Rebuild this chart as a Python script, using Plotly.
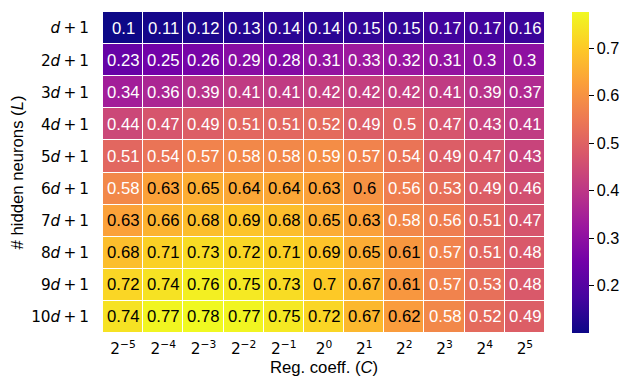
import plotly.graph_objects as go

row_labels = ["<i>d</i>\u2009+\u20091", "2<i>d</i>\u2009+\u20091", "3<i>d</i>\u2009+\u20091",
              "4<i>d</i>\u2009+\u20091", "5<i>d</i>\u2009+\u20091", "6<i>d</i>\u2009+\u20091",
              "7<i>d</i>\u2009+\u20091", "8<i>d</i>\u2009+\u20091", "9<i>d</i>\u2009+\u20091",
              "10<i>d</i>\u2009+\u20091"]
col_exps = [-5, -4, -3, -2, -1, 0, 1, 2, 3, 4, 5]
col_labels = [f"2<sup>{'−' if e < 0 else ''}{abs(e)}</sup>" for e in col_exps]

values = [
    [0.10, 0.11, 0.12, 0.13, 0.14, 0.14, 0.15, 0.15, 0.17, 0.17, 0.16],
    [0.23, 0.25, 0.26, 0.29, 0.28, 0.31, 0.33, 0.32, 0.31, 0.30, 0.30],
    [0.34, 0.36, 0.39, 0.41, 0.41, 0.42, 0.42, 0.42, 0.41, 0.39, 0.37],
    [0.44, 0.47, 0.49, 0.51, 0.51, 0.52, 0.49, 0.50, 0.47, 0.43, 0.41],
    [0.51, 0.54, 0.57, 0.58, 0.58, 0.59, 0.57, 0.54, 0.49, 0.47, 0.43],
    [0.58, 0.63, 0.65, 0.64, 0.64, 0.63, 0.60, 0.56, 0.53, 0.49, 0.46],
    [0.63, 0.66, 0.68, 0.69, 0.68, 0.65, 0.63, 0.58, 0.56, 0.51, 0.47],
    [0.68, 0.71, 0.73, 0.72, 0.71, 0.69, 0.65, 0.61, 0.57, 0.51, 0.48],
    [0.72, 0.74, 0.76, 0.75, 0.73, 0.70, 0.67, 0.61, 0.57, 0.53, 0.48],
    [0.74, 0.77, 0.78, 0.77, 0.75, 0.72, 0.67, 0.62, 0.58, 0.52, 0.49],
]

SANS = "Liberation Sans, Arial, sans-serif"
MATH = "DejaVu Sans"
BIG = 16.7
SMALL = 15.3

fig = go.Figure(go.Heatmap(
    z=values, x=col_labels, y=row_labels,
    colorscale="Plasma", zmin=0.1, zmax=0.776,
    xgap=1, ygap=1, hoverongaps=False,
    colorbar=dict(
        thickness=17, len=1, lenmode="fraction", y=0.5, yanchor="middle",
        x=1.06, xanchor="left", xpad=0, ypad=0, outlinewidth=0,
        tickvals=[0.2, 0.3, 0.4, 0.5, 0.6, 0.7],
        ticks="outside", ticklen=5, tickcolor="black",
        tickfont=dict(family=SANS, size=16.2, color="black"),
    ),
))

annotations = []
for i, row in enumerate(values):
    for j, v in enumerate(row):
        annotations.append(dict(
            x=col_labels[j], y=row_labels[i], text=f"{v:.2g}", showarrow=False,
            font=dict(family=SANS, size=BIG, color="black" if v >= 0.595 else "white"),
        ))

# page body has an 8px margin, so the figure is 8px smaller and shifted
fig.update_layout(
    width=626, height=371,
    margin=dict(l=95, r=89, t=4, b=46, autoexpand=False),
    plot_bgcolor="white", paper_bgcolor="white",
    font=dict(family=SANS, size=BIG, color="black"),
    annotations=annotations,
    xaxis=dict(
        title=dict(text="Reg. coeff. (<i>C</i>)", standoff=0, font=dict(family=SANS, size=BIG)),
        showgrid=False, zeroline=False, ticks="", ticklabelstandoff=5,
        tickfont=dict(family=MATH, size=SMALL), automargin=False,
    ),
    yaxis=dict(
        title=dict(text="# hidden neurons (<i>L</i>)", standoff=8, font=dict(family=SANS, size=BIG)),
        autorange="reversed", showgrid=False, zeroline=False, ticks="",
        ticklabelstandoff=13, tickfont=dict(family=MATH, size=SMALL), automargin=False,
    ),
)

fig.write_html("out.html")
